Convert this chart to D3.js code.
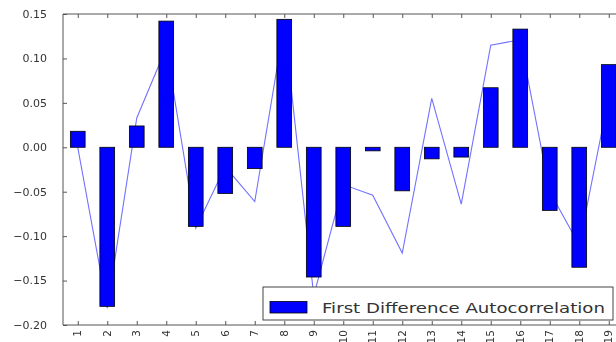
<!DOCTYPE html>
<html lang="en">
<head>
<meta charset="UTF-8">
<title>First Difference Autocorrelation</title>
<script src="https://d3js.org/d3.v7.min.js"></script>
<style>
  html, body { margin: 0; padding: 0; background: #fff; }
  svg { display: block; filter: blur(0.4px); }
  .tick-label { font-family: "DejaVu Sans", sans-serif; fill: #333; }
</style>
</head>
<body>
<div id="chart"></div>
<script>
// categories (lags) and values
const lags = d3.range(1, 20).map(String);
const barValues = [0.018, -0.179, 0.024, 0.142, -0.089, -0.052, -0.024, 0.144, -0.146, -0.089,
                   -0.004, -0.049, -0.013, -0.011, 0.067, 0.133, -0.071, -0.135, 0.093];
const lineValues = [0.000, -0.181, 0.033, 0.112, -0.091, -0.022, -0.061, 0.138, -0.167, -0.042,
                    -0.054, -0.119, 0.055, -0.064, 0.115, 0.121, -0.050, -0.110, 0.057];
const yTicks = [-0.20, -0.15, -0.10, -0.05, 0.00, 0.05, 0.10, 0.15];
const legendLabel = "First Difference Autocorrelation";

const width = 616, height = 342;
const plot = { left: 63, top: 14, right: 623.5, bottom: 325 };

const svg = d3.select("#chart").append("svg")
  .attr("width", width)
  .attr("height", height);

const x = d3.scaleBand()
  .domain(lags)
  .range([plot.left, plot.right])
  .paddingInner(0.5)
  .paddingOuter(0.25);

const y = d3.scaleLinear()
  .domain([-0.20, 0.15])
  .range([plot.bottom, plot.top]);

const fmt = v => d3.format(".2f")(v).replace("-", "\u2212");

// thin line series, drawn behind the bars
const line = d3.line()
  .x((d, i) => x(lags[i]) + x.bandwidth() / 2)
  .y(d => y(d));

svg.append("path")
  .datum(lineValues)
  .attr("d", line)
  .attr("fill", "none")
  .attr("stroke", "#7272ff")
  .attr("stroke-width", 1.1);

// bars
svg.append("g").selectAll("rect")
  .data(barValues)
  .join("rect")
  .attr("x", (d, i) => x(lags[i]))
  .attr("width", x.bandwidth())
  .attr("y", d => y(Math.max(0, d)))
  .attr("height", d => Math.abs(y(d) - y(0)))
  .attr("fill", "#0000ff")
  .attr("stroke", "#000")
  .attr("stroke-width", 0.8);

// frame (right side runs off the picture)
svg.append("path")
  .attr("d", `M${plot.right},${plot.top}H${plot.left}V${plot.bottom}H${plot.right}`)
  .attr("fill", "none")
  .attr("stroke", "#555")
  .attr("stroke-width", 1);

// y axis
const yAxis = svg.append("g")
  .attr("transform", `translate(${plot.left},0)`)
  .call(d3.axisRight(y).tickValues(yTicks).tickSize(4).tickFormat(""));
yAxis.select(".domain").remove();
yAxis.selectAll("line").attr("stroke", "#555");

svg.append("g").selectAll("text")
  .data(yTicks)
  .join("text")
  .attr("class", "tick-label")
  .attr("x", 47)
  .attr("y", d => y(d))
  .attr("dy", "0.35em")
  .attr("text-anchor", "end")
  .attr("font-size", 11)
  .text(fmt);

// x axis ticks (bottom and top, inward)
const xPts = d3.scalePoint().domain(lags).range([x(lags[0]), x(lags[lags.length - 1])]);
const xBottom = svg.append("g")
  .attr("transform", `translate(${x.bandwidth() / 2},${plot.bottom})`)
  .call(d3.axisTop(xPts).tickSize(4).tickFormat(""));
xBottom.select(".domain").remove();
xBottom.selectAll("line").attr("stroke", "#555");

const xTop = svg.append("g")
  .attr("transform", `translate(${x.bandwidth() / 2},${plot.top})`)
  .call(d3.axisBottom(xPts).tickSize(4).tickFormat(""));
xTop.select(".domain").remove();
xTop.selectAll("line").attr("stroke", "#555");

// rotated x labels
svg.append("g").selectAll("text")
  .data(lags)
  .join("text")
  .attr("class", "tick-label")
  .attr("font-size", 10.5)
  .attr("text-anchor", "end")
  .attr("dy", "0.35em")
  .attr("transform", d => `translate(${x(d) + x.bandwidth() / 2},${plot.bottom + 5}) rotate(-90)`)
  .text(d => d);

// legend
const lg = svg.append("g").attr("transform", "translate(263,287)");
lg.append("rect")
  .attr("width", 350)
  .attr("height", 33)
  .attr("fill", "#fff")
  .attr("stroke", "#444")
  .attr("stroke-width", 1);
lg.append("rect")
  .attr("x", 7)
  .attr("y", 14.5)
  .attr("width", 37)
  .attr("height", 11.5)
  .attr("fill", "#0000ff")
  .attr("stroke", "#000")
  .attr("stroke-width", 0.8);
lg.append("text")
  .attr("class", "tick-label")
  .attr("x", 59)
  .attr("y", 25.5)
  .attr("font-size", 14)
  .attr("textLength", 283)
  .attr("lengthAdjust", "spacingAndGlyphs")
  .text(legendLabel);
</script>
</body>
</html>
